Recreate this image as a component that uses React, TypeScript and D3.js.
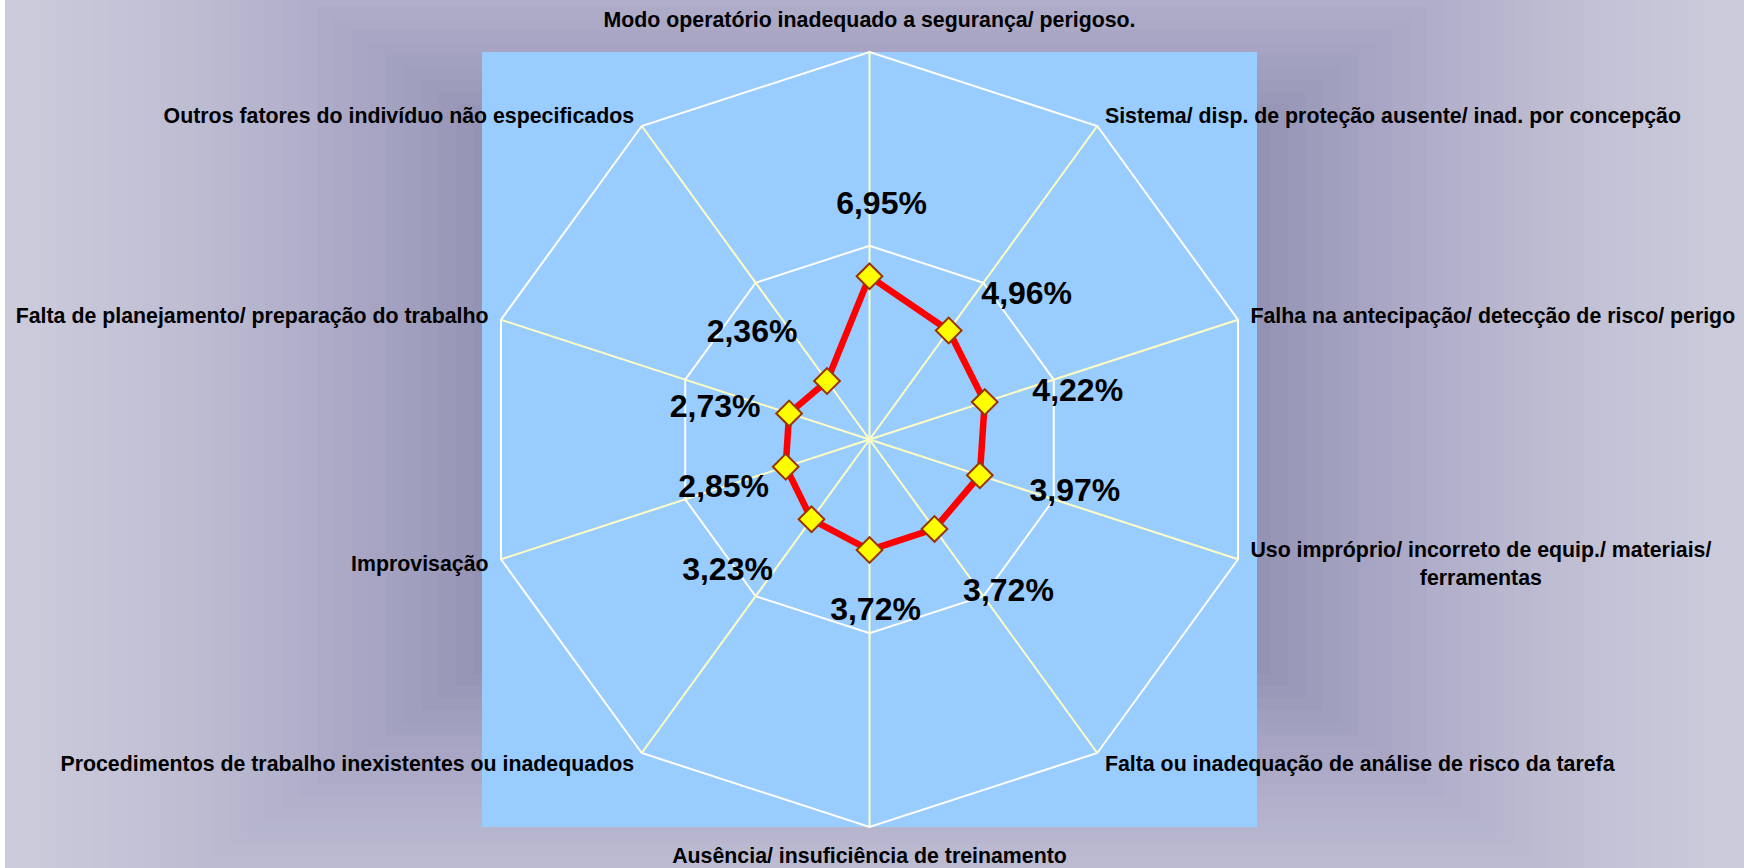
import React, { useEffect, useRef } from "react";
import * as d3 from "d3";

// categories, clockwise from the top
const categories: string[] = [
  "Modo operatório inadequado a segurança/ perigoso.",
  "Sistema/ disp. de proteção ausente/ inad. por concepção",
  "Falha na antecipação/ detecção de risco/ perigo",
  "Uso impróprio/ incorreto de equip./ materiais/ ferramentas",
  "Falta ou inadequação de análise de risco da tarefa",
  "Ausência/ insuficiência de treinamento",
  "Procedimentos de trabalho inexistentes ou inadequados",
  "Improvisação",
  "Falta de planejamento/ preparação do trabalho",
  "Outros fatores do indivíduo não especificados",
];

const values: number[] = [0.0695, 0.0496, 0.0422, 0.0397, 0.0372, 0.0372, 0.0323, 0.0285, 0.0273, 0.0236];

// log value axis 1% .. 100%
const axisDomain: [number, number] = [0.01, 1];
const ringTicks: number[] = [0.1, 1];

// data labels were dragged by hand in the original, px from the marker
const labelNudge: [number, number][] = [
  [12, -74], [78, -38], [93, -13], [95, 14], [74, 61],
  [6, 58], [-84, 49], [-62, 19], [-74, -8], [-75, -51],
];

const W = 1744;
const H = 868;
const FONT = "'Liberation Sans', Arial, sans-serif";

const ptBR = d3.formatLocale({ decimal: ",", thousands: ".", grouping: [3], currency: ["R$", ""] });
const pct = ptBR.format(".2%");

export default function App() {
  const ref = useRef<SVGSVGElement>(null);

  useEffect(() => {
    const svg = d3.select(ref.current);
    svg.selectAll("*").remove();

    // chart area: rectangular "from center" gradient, drawn as bands
    const shade = d3.scaleLinear<string>()
      .domain([0.4, 0.45, 0.55, 0.66, 0.78, 0.9, 1])
      .range(["#8c8aad", "#9391b3", "#a2a0bf", "#b0aeca", "#bcbbd1", "#c6c5d8", "#cccbdc"])
      .clamp(true);
    const gcx = 872, gcy = 395, ghw = 867, ghh = 607;

    svg.append("clipPath").attr("id", "areaClip")
      .append("rect").attr("x", 5).attr("y", 0).attr("width", W - 5).attr("height", H);

    const bg = svg.append("g").attr("clip-path", "url(#areaClip)");
    bg.append("rect").attr("x", 5).attr("y", 0).attr("width", W - 5).attr("height", H).attr("fill", shade(1));
    bg.selectAll("rect.band")
      .data(d3.range(1, 0.38, -0.02))
      .join("rect")
      .attr("class", "band")
      .attr("x", (f) => gcx - ghw * f)
      .attr("y", (f) => gcy - ghh * f)
      .attr("width", (f) => 2 * ghw * f)
      .attr("height", (f) => 2 * ghh * f)
      .attr("fill", (f) => shade(f));

    // plot area
    const px = 482, py = 52, ps = 775;
    svg.append("rect").attr("x", px).attr("y", py).attr("width", ps).attr("height", ps).attr("fill", "#99ccff");

    const cx = px + ps / 2;
    const cy = py + ps / 2;
    const R = ps / 2;

    const n = categories.length;
    const angle = d3.scaleLinear().domain([0, n]).range([0, 2 * Math.PI]);
    const r = d3.scaleLog().domain(axisDomain).range([0, R]);

    const g = svg.append("g").attr("transform", `translate(${cx},${cy})`);

    const idx = d3.range(n);

    // rings
    const ring = d3.lineRadial<number>()
      .angle((i) => angle(i))
      .curve(d3.curveLinearClosed);
    g.selectAll("path.ring")
      .data(ringTicks)
      .join("path")
      .attr("class", "ring")
      .attr("d", (t) => ring.radius(r(t))(idx))
      .attr("fill", "none")
      .attr("stroke", "#ffffff")
      .attr("stroke-width", 2);

    // spokes
    g.selectAll("line.spoke")
      .data(idx)
      .join("line")
      .attr("class", "spoke")
      .attr("x1", 0).attr("y1", 0)
      .attr("x2", (i) => R * Math.sin(angle(i)))
      .attr("y2", (i) => -R * Math.cos(angle(i)))
      .attr("stroke", "#ffffc4")
      .attr("stroke-width", 2);

    // series
    const line = d3.lineRadial<number>()
      .angle((d, i) => angle(i))
      .radius((d) => r(d))
      .curve(d3.curveLinearClosed);
    g.append("path")
      .attr("d", line(values))
      .attr("fill", "none")
      .attr("stroke", "#ff0000")
      .attr("stroke-width", 6.5)
      .attr("stroke-linejoin", "round");

    const pt = (d: number, i: number): [number, number] => [
      r(d) * Math.sin(angle(i)),
      -r(d) * Math.cos(angle(i)),
    ];

    const diamond = d3.symbol().type(d3.symbolSquare).size(330);
    g.selectAll("path.marker")
      .data(values)
      .join("path")
      .attr("class", "marker")
      .attr("d", diamond())
      .attr("transform", (d, i) => {
        const [x, y] = pt(d, i);
        return `translate(${x},${y}) rotate(45)`;
      })
      .attr("fill", "#ffff00")
      .attr("stroke", "#993300")
      .attr("stroke-width", 2);

    // data labels
    const dfs = 32;
    g.selectAll("text.value")
      .data(values)
      .join("text")
      .attr("class", "value")
      .attr("x", (d, i) => pt(d, i)[0] + labelNudge[i][0])
      .attr("y", (d, i) => pt(d, i)[1] + labelNudge[i][1] + dfs * 0.36)
      .attr("text-anchor", "middle")
      .attr("font-family", FONT)
      .attr("font-weight", "bold")
      .attr("font-size", dfs)
      .attr("fill", "#000")
      .text((d) => pct(d));

    // category labels
    const cfs = 21.33;
    const lh = 28.4;
    const gap = 13;
    idx.forEach((i) => {
      const a = angle(i);
      const s = Math.sin(a);
      const c = Math.cos(a);
      let ax = cx + (R + gap) * s;
      let ay = cy - (R + gap) * c;
      const side = s > 0.01 ? 1 : s < -0.01 ? -1 : 0;
      if (side === 0) ay -= c > 0 ? 20 : -15;

      const t = svg.append("text")
        .attr("font-family", FONT)
        .attr("font-weight", "bold")
        .attr("font-size", cfs)
        .attr("fill", "#000");

      const room = side === 1 ? W - ax : side === -1 ? ax - 5 : W;
      const words = categories[i].split(" ");
      const lines: string[] = [];
      let cur: string[] = [];
      words.forEach((w) => {
        t.text([...cur, w].join(" "));
        if (cur.length && (t.node() as SVGTextElement).getComputedTextLength() > room) {
          lines.push(cur.join(" "));
          cur = [w];
        } else cur.push(w);
      });
      lines.push(cur.join(" "));

      let blockW = 0;
      lines.forEach((l) => {
        t.text(l);
        blockW = Math.max(blockW, (t.node() as SVGTextElement).getComputedTextLength());
      });
      t.text(null);

      let anchor = side === 1 ? "start" : side === -1 ? "end" : "middle";
      if (lines.length > 1) {
        ax = ax + (side * blockW) / 2;
        anchor = "middle";
      }
      t.attr("text-anchor", anchor);
      const y0 = ay - ((lines.length - 1) * lh) / 2 + cfs * 0.36;
      lines.forEach((l, k) => {
        t.append("tspan").attr("x", ax).attr("y", y0 + k * lh).text(l);
      });
    });
  }, []);

  return (
    <svg
      ref={ref}
      width={W}
      height={H}
      style={{ position: "absolute", left: 0, top: 0, display: "block", background: "#ffffff" }}
    />
  );
}
